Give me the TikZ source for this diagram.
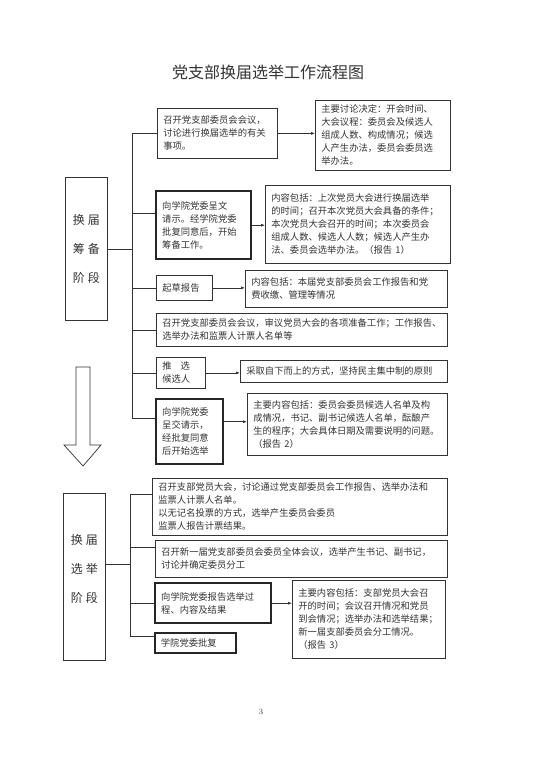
\documentclass[tikz,border=0pt]{standalone}
\usepackage{fontspec}
\newfontfamily\cjk{Noto Sans CJK SC}
\usepackage{tikz}
\usetikzlibrary{positioning, calc, arrows.meta}
\definecolor{inkgray}{HTML}{333333}

\begin{document}
\begin{tikzpicture}[x=1pt, y=-1pt, >={Latex[length=4pt,width=3pt]},
    box/.style={draw=inkgray, line width=0.7pt, anchor=north west, align=left,
      inner xsep=6pt, inner ysep=3pt, text=inkgray,
      font=\cjk\fontsize{9.3}{13}\selectfont},
    thickbox/.style={box, line width=2.4pt, draw=black!85},
    stagebox/.style={draw=inkgray, line width=0.7pt, anchor=north west, align=center,
      minimum width=42pt, text=inkgray, font=\cjk\fontsize{12}{29}\selectfont},
    link/.style={draw=inkgray, line width=0.7pt}]

    \useasboundingbox (0,0) rectangle (543,768);

    % ================= 标题 (Title) =================
    \node[font=\cjk\fontsize{16}{18}\selectfont, text=inkgray] (title) at (268,72) {党支部换届选举工作流程图};

    % ================= 换届筹备阶段 =================
    \node[stagebox, minimum height=143pt] (S1) at (65,177) {换\hspace{3pt}届\\筹\hspace{3pt}备\\阶\hspace{3pt}段};

    \node[box, text width=108pt, minimum height=50pt] (A) at (157,108)
      {召开党支部委员会会议，\\讨论进行换届选举的有关\\事项。};
    \node[box, text width=123pt, minimum height=70pt] (B) at (315,100)
      {主要讨论决定：开会时间、\\大会议程：委员会及候选人\\组成人数、构成情况；候选\\人产生办法，委员会委员选\\举办法。};

    \node[thickbox, text width=83pt, minimum height=68pt] (C) at (155,190)
      {向学院党委呈文\\请示。经学院党委\\批复同意后，开始\\筹备工作。};
    \node[box, text width=173pt, minimum height=78pt] (D) at (265,185)
      {内容包括：上次党员大会进行换届选举\\的时间；召开本次党员大会具备的条件；\\本次党员大会召开的时间；本次委员会\\组成人数、候选人人数；候选人产生办\\法、委员会选举办法。（报告 1）};

    \node[box, text width=44pt, minimum height=25pt] (E) at (156,275) {起草报告};
    \node[box, text width=190pt, minimum height=37pt] (F) at (245,270)
      {内容包括：本届党支部委员会工作报告和党\\费收缴、管理等情况};

    \node[box, text width=279pt, minimum height=33pt] (G) at (156,313)
      {召开党支部委员会会议，审议党员大会的各项准备工作；工作报告、\\选举办法和监票人计票人名单等};

    \node[box, text width=37pt, minimum height=31pt] (H) at (156,357) {推\hspace{9pt}选\\候选人};
    \node[box, text width=195pt, minimum height=22pt] (I) at (240,360)
      {采取自下而上的方式，坚持民主集中制的原则};

    \node[thickbox, text width=55pt, minimum height=65pt] (J) at (155,398)
      {向学院党委\\呈交请示，\\经批复同意\\后开始选举};
    \node[box, text width=188pt, minimum height=62pt] (K) at (247,393)
      {主要内容包括：委员会委员候选人名单及构\\成情况，书记、副书记候选人名单，酝酿产\\生的程序；大会具体日期及需要说明的问题。\\（报告 2）};

    % 筹备阶段连线
    \coordinate (t1) at (132,0);
    \coordinate (cin) at ([yshift=12pt]C.west);
    \coordinate (jin) at ([yshift=13pt]J.west);
    \draw[link] (S1.east) -- (t1 |- S1.east);
    \draw[link] (t1 |- A.west) -- (t1 |- jin) -- (jin);
    \draw[link] (t1 |- A.west) -- (A.west);
    \draw[link] (t1 |- cin) -- (cin);
    \draw[link] (t1 |- E.west) -- (E.west);
    \draw[link] (t1 |- G.west) -- (G.west);
    \draw[link] (t1 |- H.west) -- (H.west);

    \coordinate (jout) at ([yshift=10pt]J.east);
    \draw[link, ->] (A.east) -- (A.east -| B.west);
    \draw[link, ->] (C.east) -- (C.east -| D.west);
    \draw[link, ->] (E.east) -- (E.east -| F.west);
    \draw[link, ->] (H.east) -- (H.east -| I.west);
    \draw[link, ->] (jout) -- (jout -| K.west);

    % ================= 向下的空心箭头 =================
    \draw[inkgray, line width=0.7pt, fill=white] (76,367) -- (90,367) -- (90,445) -- (101,445)
      -- (83,466) -- (64,445) -- (76,445) -- cycle;

    % ================= 换届选举阶段 =================
    \node[stagebox, minimum height=167pt, text depth=17pt] (S2) at (63,493) {换\hspace{3pt}届\\选\hspace{3pt}举\\阶\hspace{3pt}段};

    \node[box, text width=283pt, minimum height=57pt] (L) at (152,478)
      {召开支部党员大会，讨论通过党支部委员会工作报告、选举办法和\\监票人计票人名单。\\以无记名投票的方式，选举产生委员会委员\\监票人报告计票结果。};
    \node[box, text width=280pt, minimum height=37pt] (M) at (155,540)
      {召开新一届党支部委员会委员全体会议，选举产生书记、副书记，\\讨论并确定委员分工};

    \node[thickbox, text width=104pt, minimum height=40pt] (N) at (154,582)
      {向学院党委报告选举过\\程、内容及结果};
    \node[box, text width=141pt, minimum height=78pt] (O) at (292,580)
      {主要内容包括：支部党员大会召\\开的时间；会议召开情况和党员\\到会情况；选举办法和选举结果；\\新一届支部委员会分工情况。\\（报告 3）};

    \node[thickbox, line width=1.8pt, text width=69pt, minimum height=20pt] (P) at (154,632) {学院党委批复};

    % 选举阶段连线
    \coordinate (t2) at (130,0);
    \coordinate (s2out) at ([yshift=13pt]S2.east);
    \coordinate (lin) at ([yshift=13pt]L.west);
    \coordinate (min) at ([yshift=12pt]M.west);
    \coordinate (pin) at ([yshift=7pt]P.west);
    \draw[link] (s2out) -- (t2 |- s2out);
    \draw[link] (lin) -| (t2 |- pin) -- (pin);
    \draw[link] (t2 |- min) -- (min);
    \draw[link] (t2 |- N.west) -- (N.west);

    \draw[link, ->] (N.east) -- (N.east -| O.west);

    % 页码
    \node[font=\fontsize{8}{10}\selectfont, text=inkgray] (pagenum) at (261,712) {3};

\end{tikzpicture}
\end{document}
